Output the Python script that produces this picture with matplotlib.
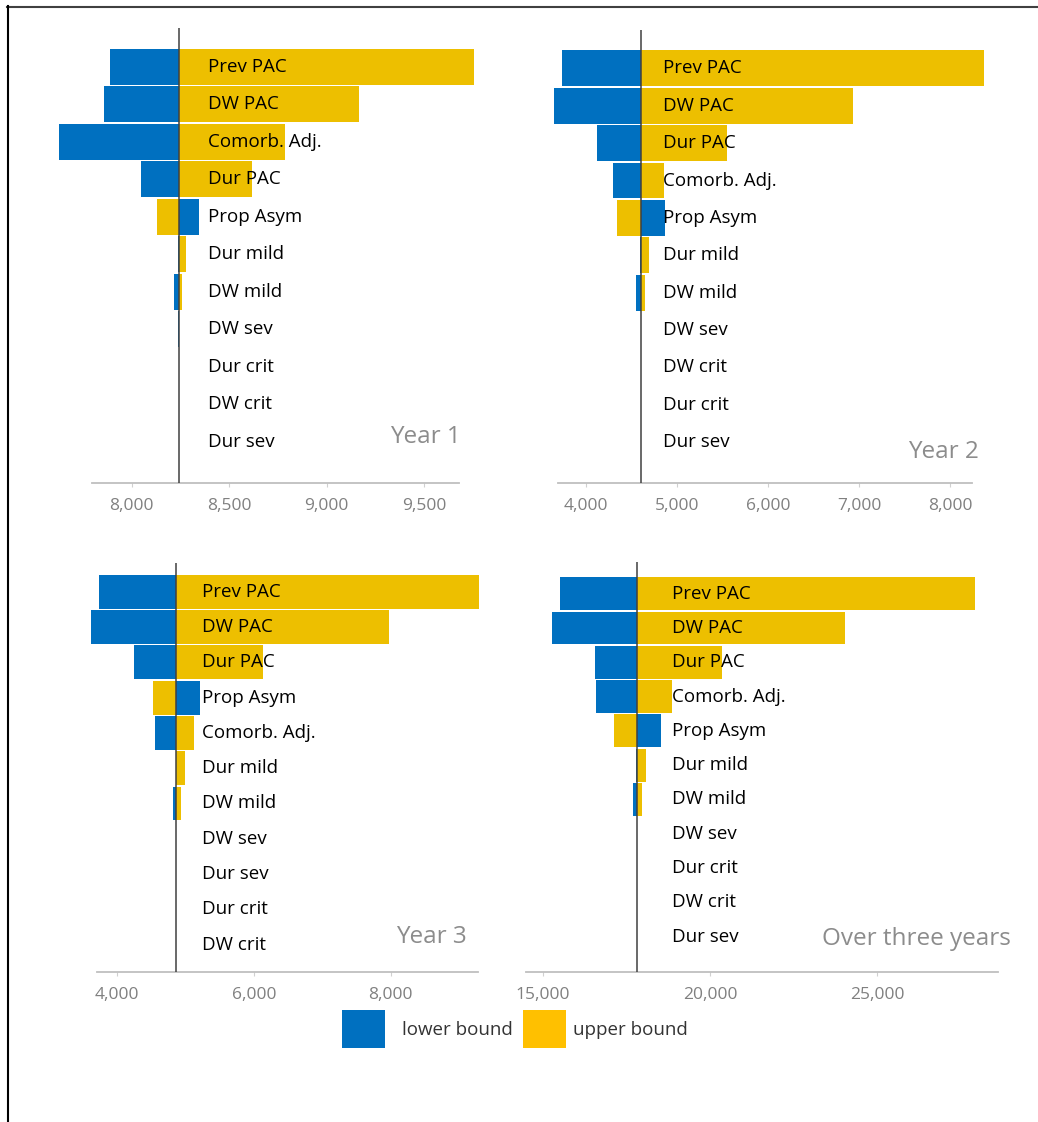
import matplotlib
matplotlib.use("Agg")
import matplotlib.pyplot as plt
from matplotlib.patches import Rectangle
from matplotlib.lines import Line2D
from matplotlib.ticker import FuncFormatter

plt.rcParams['font.family'] = ['Open Sans', 'DejaVu Sans']

# ---------------- data ----------------
cats_y1 = ["Prev PAC", "DW PAC", "Comorb. Adj.", "Dur PAC", "Prop Asym", "Dur mild",
           "DW mild", "DW sev", "Dur crit", "DW crit", "Dur sev"]
base_y1 = 8241
lower_y1 = [7890, 7858, 7626, 8048, 8345, 8238, 8217, 8235, 8241, 8241, 8241]
upper_y1 = [9755, 9167, 8787, 8618, 8130, 8277, 8258, 8241, 8241, 8241, 8241]
ticks_y1 = [8000, 8500, 9000, 9500]

cats_y2 = ["Prev PAC", "DW PAC", "Dur PAC", "Comorb. Adj.", "Prop Asym", "Dur mild",
           "DW mild", "DW sev", "DW crit", "Dur crit", "Dur sev"]
base_y2 = 4601
lower_y2 = [3740, 3652, 4124, 4293, 4871, 4590, 4553, 4601, 4601, 4601, 4601]
upper_y2 = [8377, 6931, 5546, 4854, 4337, 4692, 4648, 4601, 4601, 4601, 4601]
ticks_y2 = [4000, 5000, 6000, 7000, 8000]

cats_y3 = ["Prev PAC", "DW PAC", "Dur PAC", "Prop Asym", "Comorb. Adj.", "Dur mild",
           "DW mild", "DW sev", "Dur sev", "Dur crit", "DW crit"]
base_y3 = 4866
lower_y3 = [3728, 3611, 4240, 5214, 4556, 4854, 4810, 4866, 4866, 4866, 4866]
upper_y3 = [9292, 7975, 6127, 4522, 5122, 4995, 4932, 4866, 4866, 4866, 4866]
ticks_y3 = [4000, 6000, 8000]

cats_all = ["Prev PAC", "DW PAC", "Dur PAC", "Comorb. Adj.", "Prop Asym", "Dur mild",
            "DW mild", "DW sev", "Dur crit", "DW crit", "Dur sev"]
base_all = 17830
lower_all = [15527, 15288, 16564, 16603, 18527, 17789, 17708, 17830, 17830, 17830, 17830]
upper_all = [27909, 24043, 20350, 18874, 17123, 18079, 17968, 17830, 17830, 17830, 17830]
ticks_all = [15000, 20000, 25000]

titles = ["Year 1", "Year 2", "Year 3", "Over three years"]
legend_labels = ["lower bound", "upper bound"]

# ---------------- style ----------------
W, H = 1038, 1122
BLUE = "#0070C0"
GOLD = "#EDBF00"
GOLD_LEG = "#FFC000"

fig = plt.figure(figsize=(W / 100, H / 100), dpi=100)


def fx(px):
    return px / W


def fy(py):
    return 1 - py / H


panels = [
    dict(cats=cats_y1, base=base_y1, low=lower_y1, up=upper_y1, ticks=ticks_y1, title=titles[0],
         left=40, right=490, top=28, bottom=483, ref=((8000, 131.7), (9500, 424.3)),
         spine=(92, 459), row0=66.7, sp=37.5, lab_off=29, title_xy=(461, 437)),
    dict(cats=cats_y2, base=base_y2, low=lower_y2, up=upper_y2, ticks=ticks_y2, title=titles[1],
         left=530, right=1000, top=30, bottom=482.7, ref=((4000, 586), (8000, 950)),
         spine=(558.3, 972.3), row0=68.3, sp=37.4, lab_off=22.6, title_xy=(979, 452)),
    dict(cats=cats_y3, base=base_y3, low=lower_y3, up=upper_y3, ticks=ticks_y3, title=titles[2],
         left=50, right=500, top=562.7, bottom=971.7, ref=((4000, 117.3), (8000, 390.7)),
         spine=(97.3, 477.7), row0=591.7, sp=35.3, lab_off=25.3, title_xy=(466.7, 937)),
    dict(cats=cats_all, base=base_all, low=lower_all, up=upper_all, ticks=ticks_all, title=titles[3],
         left=515, right=1010, top=561.7, bottom=972, ref=((20000, 710), (25000, 877.3)),
         spine=(526, 998.3), row0=593.7, sp=34.3, lab_off=34.4, title_xy=(1010.7, 939)),
]

for p in panels:
    ax = fig.add_axes([fx(p['left']), fy(p['bottom']),
                       fx(p['right'] - p['left']), (p['bottom'] - p['top']) / H])
    (v0, x0), (v1, x1) = p['ref']
    s = (x1 - x0) / (v1 - v0)
    val = lambda px: v0 + (px - x0) / s
    ax.set_xlim(val(p['left']), val(p['right']))
    n = len(p['cats'])
    ytop = -(p['row0'] - p['top']) / p['sp']
    ybot = (n - 1) + (p['bottom'] - (p['row0'] + (n - 1) * p['sp'])) / p['sp']
    ax.set_ylim(ybot, ytop)
    rows = list(range(n))
    base = p['base']
    ax.barh(rows, [l - base for l in p['low']], left=base, height=0.96,
            color=BLUE, linewidth=0, zorder=2)
    ax.barh(rows, [u - base for u in p['up']], left=base, height=0.96,
            color=GOLD, linewidth=0, zorder=2)
    ax.axvline(base, color="#404040", lw=1.1, zorder=3)
    for i, c in enumerate(p['cats']):
        ax.annotate(c, xy=(base, i), xytext=(p['lab_off'] * 0.72, 0),
                    textcoords='offset points', ha='left', va='center',
                    fontsize=13.5, color='black', zorder=4)
    for side in ['top', 'right', 'left']:
        ax.spines[side].set_visible(False)
    ax.spines['bottom'].set_color('#BFBFBF')
    ax.spines['bottom'].set_linewidth(1.3)
    ax.spines['bottom'].set_bounds(val(p['spine'][0]), val(p['spine'][1]))
    ax.set_yticks([])
    ax.set_xticks(p['ticks'])
    ax.xaxis.set_major_formatter(FuncFormatter(lambda v, pos: f"{int(v):,}"))
    ax.tick_params(axis='x', colors='#D0D0D0', labelcolor='#808080', labelsize=12.5,
                   length=3, width=0.8, pad=8)
    ax.patch.set_alpha(0)
    fig.text(fx(p['title_xy'][0]), fy(p['title_xy'][1]), p['title'], ha='right', va='center',
             fontsize=17.5, color='#8C8C8C')

# legend
fig.patches.append(Rectangle((fx(342), fy(1048)), fx(43), 38 / H, transform=fig.transFigure,
                             facecolor=BLUE, edgecolor='none'))
fig.text(fx(402), fy(1030), legend_labels[0], ha='left', va='center', fontsize=13.5, color='#333333')
fig.patches.append(Rectangle((fx(523), fy(1048)), fx(43), 38 / H, transform=fig.transFigure,
                             facecolor=GOLD_LEG, edgecolor='none'))
fig.text(fx(573), fy(1030), legend_labels[1], ha='left', va='center', fontsize=13.5, color='#333333')

# frame lines (top and left)
fig.lines.append(Line2D([fx(7), 1], [fy(6.5), fy(6.5)], transform=fig.transFigure,
                        color='#404040', lw=1.5))
fig.lines.append(Line2D([fx(7.5), fx(7.5)], [fy(6), 0], transform=fig.transFigure,
                        color='black', lw=1.5))

fig.savefig("out.png", dpi=100)
